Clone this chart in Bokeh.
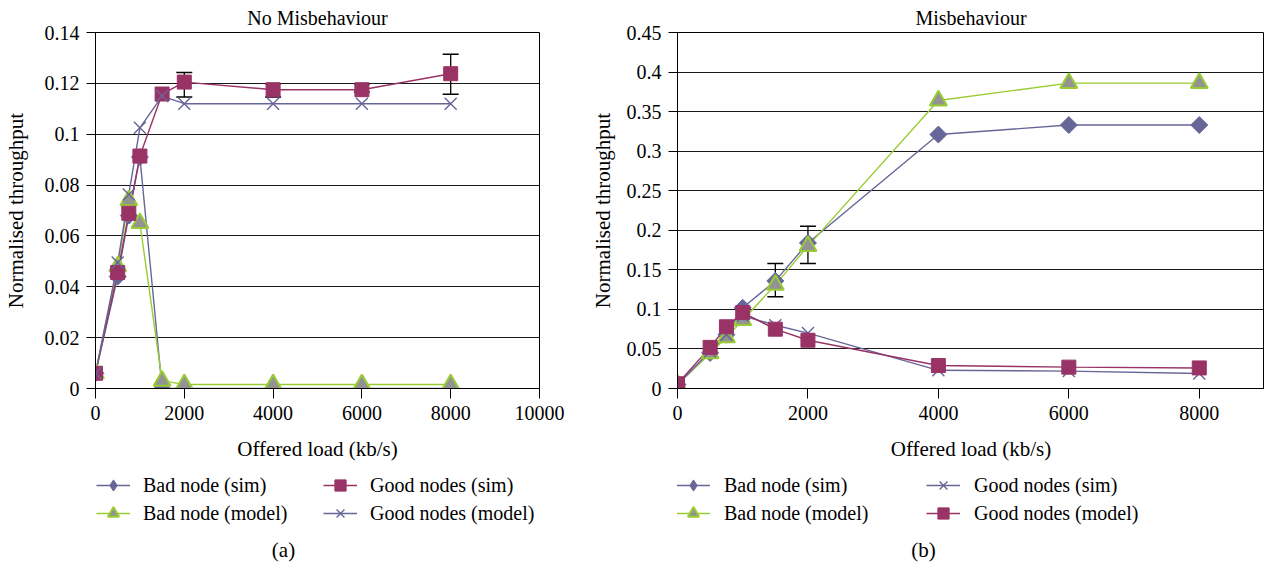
from bokeh.plotting import figure
from bokeh.models import (Legend, LegendItem, Label, Whisker, TeeHead,
                          ColumnDataSource, FixedTicker, Range1d)
from bokeh.layouts import row, column
from bokeh.embed import file_html
from bokeh.resources import INLINE
import numpy as np

FONT = "Liberation Serif"
FS = "20px"
FSL = "21px"
BLUE = "#666699"
MAROON = "#993366"
GREEN = "#99CC33"
GRAY = "#939393"

# ---------------- data ----------------
load = [0, 500, 750, 1000, 1500, 2000, 4000, 6000, 8000]

# (a) No Misbehaviour
a_bad_sim = [0.006, 0.044, 0.068, 0.091, 0.0, 0.0, 0.0, 0.0, 0.0]
a_bad_model = [0.006, 0.048, 0.074, 0.065, 0.003, 0.0016, 0.0016, 0.0016, 0.0016]
a_good_sim = [0.006, 0.0456, 0.0689, 0.0914, 0.1158, 0.1205, 0.1175, 0.1175, 0.1238]
a_good_model = [0.006, 0.0495, 0.0763, 0.1025, 0.115, 0.112, 0.112, 0.112, 0.112]
a_err_x = [2000, 4000, 6000, 8000]
a_err_lo = [0.1146, 0.1146, 0.1166, 0.1157]
a_err_hi = [0.1243, 0.1198, 0.1197, 0.1314]

# (b) Misbehaviour
b_bad_sim = [0.005, 0.045, 0.068, 0.102, 0.136, 0.184, 0.321, 0.333, 0.333]
b_bad_model = [0.005, 0.0445, 0.0646, 0.0865, 0.131, 0.180, 0.364, 0.386, 0.386]
b_good_sim = [0.005, 0.047, 0.068, 0.092, 0.080, 0.070, 0.023, 0.022, 0.019]
b_good_model = [0.006, 0.052, 0.078, 0.096, 0.075, 0.061, 0.029, 0.027, 0.026]
b_err_x = [1500, 2000]
b_err_lo = [0.116, 0.158]
b_err_hi = [0.158, 0.205]

a_xticks = [0, 2000, 4000, 6000, 8000, 10000]
b_xticks = [0, 2000, 4000, 6000, 8000]
a_yticks = [0, 0.02, 0.04, 0.06, 0.08, 0.1, 0.12, 0.14]
a_ylabels = ["0", "0.02", "0.04", "0.06", "0.08", "0.1", "0.12", "0.14"]
b_yticks = [0, 0.05, 0.1, 0.15, 0.2, 0.25, 0.3, 0.35, 0.4, 0.45]
b_ylabels = ["0", "0.05", "0.1", "0.15", "0.2", "0.25", "0.3", "0.35", "0.4", "0.45"]

STYLE = {
    "diamond": dict(marker="square", angle=np.pi / 4, size=12, fill_color=BLUE, line_color=BLUE, lc=BLUE, lw=1),
    "square": dict(marker="square", angle=0, size=14, fill_color=MAROON, line_color=MAROON, lc=MAROON, lw=1),
    "triangle": dict(marker="triangle", angle=0, size=17, fill_color=GRAY, line_color=GREEN, lc=GREEN, lw=2),
    "x": dict(marker="x", angle=0, size=17, fill_color=BLUE, line_color=BLUE, lc=BLUE, lw=1.4),
}


def draw_series(p, ys, kind):
    st = STYLE[kind]
    src = ColumnDataSource(dict(x=load, y=ys))
    lr = p.line("x", "y", source=src, line_color=st["lc"], line_width=1.4)
    return src, lr


def draw_marks(p, src, kind, for_legend=False):
    st = STYLE[kind]
    marker, angle = st["marker"], st["angle"]
    if for_legend and kind == "diamond":
        # legend glyphs are drawn unrotated, so use the diamond marker there
        marker, angle = "diamond", 0
    return p.scatter("x", "y", source=src, marker=marker, angle=angle,
                     size=st["size"], fill_color=st["fill_color"],
                     line_color=st["line_color"], line_width=st["lw"])


def chart(title, xmax, xticks, yticks, ylabels, ymax, series, err,
          frame_w, left, right, ylab_standoff):
    p = figure(width=left + frame_w + right, height=466,
               x_range=Range1d(0, xmax), y_range=Range1d(0, ymax),
               output_backend="svg", toolbar_location=None,
               min_border_left=left, min_border_right=right,
               min_border_top=31, min_border_bottom=78,
               background_fill_color="white", border_fill_color="white")
    p.title.text = title
    p.title.align = "center"
    p.title.text_font = FONT
    p.title.text_font_size = FS
    p.title.text_font_style = "normal"
    p.title.text_color = "black"
    p.title.standoff = 8

    p.outline_line_color = "black"
    p.outline_line_width = 1
    p.xgrid.grid_line_color = None
    p.ygrid.grid_line_color = "black"
    p.ygrid.grid_line_alpha = 0.9
    p.ygrid.ticker = FixedTicker(ticks=yticks)

    p.xaxis.ticker = FixedTicker(ticks=xticks)
    p.yaxis.ticker = FixedTicker(ticks=yticks)
    p.yaxis.major_label_overrides = dict(zip(yticks, ylabels))
    for ax in (p.xaxis, p.yaxis):
        ax.axis_line_color = "black"
        ax.axis_line_width = 1
        ax.major_tick_line_color = "black"
        ax.major_tick_in = 0
        ax.minor_tick_line_color = None
        ax.major_label_text_font = FONT
        ax.major_label_text_font_size = FS
        ax.major_label_text_color = "black"
        ax.axis_label_text_font = FONT
        ax.axis_label_text_font_size = FSL
        ax.axis_label_text_font_style = "normal"
        ax.axis_label_text_color = "black"
    p.xaxis.major_tick_out = 10
    p.yaxis.major_tick_out = 9
    p.xaxis.major_label_standoff = 7
    p.yaxis.major_label_standoff = 7
    p.xaxis.axis_label = "Offered load (kb/s)"
    p.yaxis.axis_label = "Normalised throughput"
    p.xaxis.axis_label_standoff = 14
    p.yaxis.axis_label_standoff = ylab_standoff

    ex, elo, ehi = err
    es = ColumnDataSource(dict(x=ex, lo=elo, hi=ehi))
    p.add_layout(Whisker(source=es, base="x", lower="lo", upper="hi",
                         line_color="black", line_width=1.3,
                         upper_head=TeeHead(size=16, line_color="black", line_width=1.5),
                         lower_head=TeeHead(size=16, line_color="black", line_width=1.5)))

    srcs = [draw_series(p, ys, kind)[0] for _, ys, kind in series]
    for src, (_, _, kind) in zip(srcs, series):
        draw_marks(p, src, kind)
    return p


def legend_fig(width, series, leg_x, label_width, standoff, caption, cap_x):
    # the series are drawn again here only to feed the legend; the view range
    # (negative loads) keeps them out of sight
    lf = figure(width=width, height=100, output_backend="svg", toolbar_location=None,
                x_axis_location=None, y_axis_location=None,
                min_border=0, min_border_left=0, min_border_right=0,
                min_border_top=0, min_border_bottom=0,
                x_range=Range1d(-2, -1), y_range=Range1d(0, 1),
                background_fill_color="white", border_fill_color="white")
    lf.outline_line_color = None
    lf.grid.visible = False
    items = []
    for name, ys, kind in series:
        src, lr = draw_series(lf, ys, kind)
        sr = draw_marks(lf, src, kind, for_legend=True)
        items.append(LegendItem(label=name, renderers=[lr, sr]))
    leg = Legend(items=items, orientation="vertical", nrows=2,
                 location=(leg_x, 39), margin=0, padding=0,
                 border_line_color=None, background_fill_alpha=0,
                 label_text_font=FONT, label_text_font_size=FS,
                 label_text_color="black", label_text_baseline="middle",
                 glyph_width=34, glyph_height=28, label_height=20,
                 label_width=label_width, label_standoff=standoff, spacing=0)
    lf.add_layout(leg, "center")
    lf.add_layout(Label(x=cap_x, y=17, x_units="screen", y_units="screen",
                        text=caption, text_align="center", text_baseline="middle",
                        text_font=FONT, text_font_size=FSL, text_color="black"))
    return lf


series_a = [("Bad node (sim)", a_bad_sim, "diamond"),
            ("Bad node (model)", a_bad_model, "triangle"),
            ("Good nodes (sim)", a_good_sim, "square"),
            ("Good nodes (model)", a_good_model, "x")]
series_b = [("Bad node (sim)", b_bad_sim, "diamond"),
            ("Bad node (model)", b_bad_model, "triangle"),
            ("Good nodes (sim)", b_good_sim, "x"),
            ("Good nodes (model)", b_good_model, "square")]

pa = chart("No Misbehaviour", 10000, a_xticks, a_yticks, a_ylabels, 0.14,
           series_a, (a_err_x, a_err_lo, a_err_hi), 445, 94, 48, 14)
pb = chart("Misbehaviour", 9000, b_xticks, b_yticks, b_ylabels, 0.45,
           series_b, (b_err_x, b_err_lo, b_err_hi), 587, 90, 0, 9)

la = legend_fig(587, series_a, 1, 180, 13, "(a)", 188)
lb = legend_fig(677, series_b, -1, 202, 14, "(b)", 246)

layout = row(column(pa, la), column(pb, lb))
open("out.html", "w").write(file_html(layout, INLINE))
